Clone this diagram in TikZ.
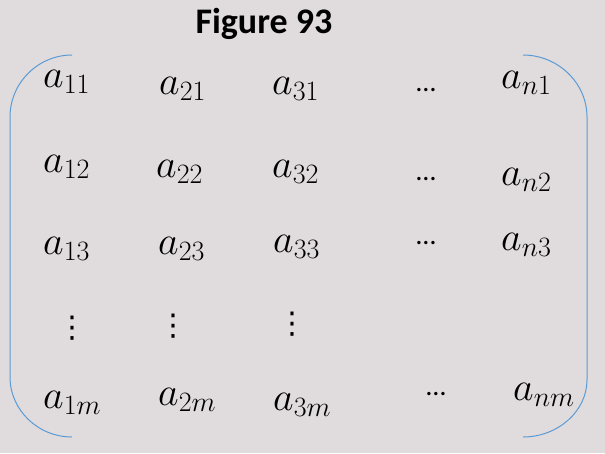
\RequirePackage{fix-cm}
\documentclass[tikz,border=0pt]{standalone}
\usepackage{fontspec}
\usepackage{tikz}
\newfontfamily\titlefont{Carlito}
\newfontfamily\symfont{DejaVu Sans}
\definecolor{paper}{RGB}{224,219,220}
\definecolor{brace}{RGB}{91,155,213}

\begin{document}
\begin{tikzpicture}[x=1pt, y=-1pt,
    entry/.style={anchor=base west, inner sep=0pt, font=\fontsize{40}{48}\selectfont},
    rowdots/.style={anchor=base, inner sep=0pt, font=\titlefont\fontsize{28}{30}\selectfont},
    coldots/.style={inner sep=0pt, font=\symfont\fontsize{30}{32}\selectfont}]
        \fill [paper]  (0,0) rectangle (605,453);
        \useasboundingbox  (0,0) rectangle (605,453);

        \node [anchor=base, inner sep=0pt, font=\titlefont\bfseries\fontsize{36}{40}\selectfont]
              (title) at (264,33) {Figure 93};

        % brackets
        \draw [brace, line width=1pt]  (72,55) .. controls (38,55) and (10,83) .. (10,117)
              -- (10,377) .. controls (10,410) and (38,437) .. (72,437);
        \draw [brace, line width=1pt]  (523,55) .. controls (558,55) and (587,83) .. (587,117)
              -- (587,380) .. controls (587,411) and (558,437) .. (523,437);

        \node [entry] (a11) at (43,87)  {$a_{11}$};
        \node [entry] (a21) at (159,94) {$a_{21}$};
        \node [entry] (a31) at (272,94) {$a_{31}$};
        \node [rowdots] (d1) at (426,91) {…};
        \node [entry] (an1) at (501,88) {$a_{n1}$};

        \node [entry] (a12) at (43,172)  {$a_{12}$};
        \node [entry] (a22) at (156,177) {$a_{22}$};
        \node [entry] (a32) at (272,177) {$a_{32}$};
        \node [rowdots] (d2) at (426,180) {…};
        \node [entry] (an2) at (501,185) {$a_{n2}$};

        \node [entry] (a13) at (43,254)  {$a_{13}$};
        \node [entry] (a23) at (158,254) {$a_{23}$};
        \node [entry] (a33) at (273,252) {$a_{33}$};
        \node [rowdots] (d3) at (426,244) {…};
        \node [entry] (an3) at (501,250) {$a_{n3}$};

        \node [coldots] (v1) at (72,328)  {⋮};
        \node [coldots] (v2) at (173,326) {⋮};
        \node [coldots] (v3) at (292,324) {⋮};

        \node [entry] (a1m) at (43,408)  {$a_{1m}$};
        \node [entry] (a2m) at (158,405) {$a_{2m}$};
        \node [entry] (a3m) at (273,410) {$a_{3m}$};
        \node [rowdots] (dm) at (436,395) {…};
        \node [entry] (anm) at (513,400) {$a_{nm}$};
      \end{tikzpicture}
\end{document}
